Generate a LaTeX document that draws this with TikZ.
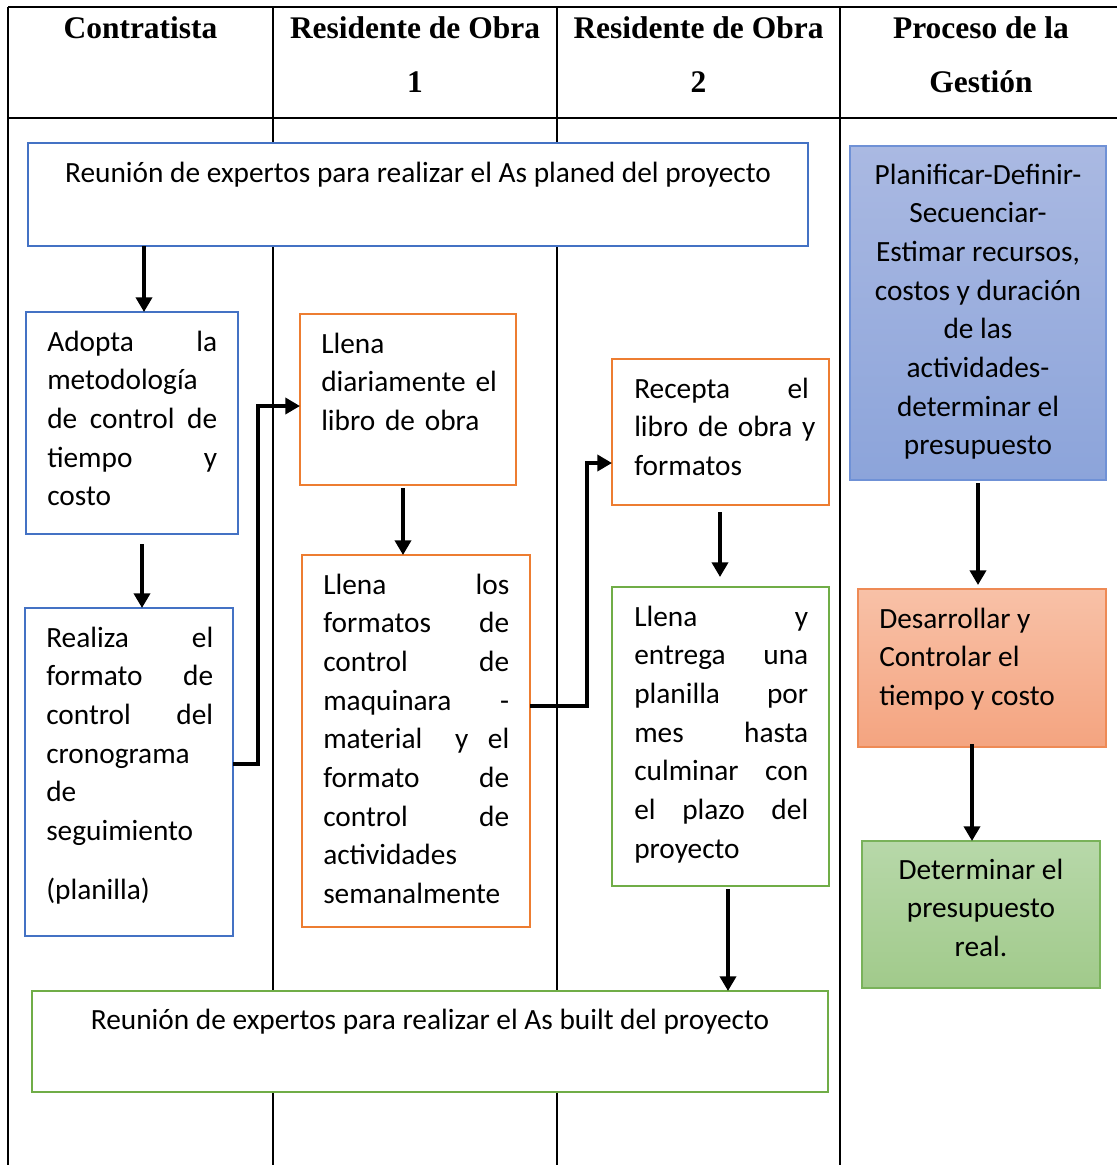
\documentclass[tikz,border=0pt]{standalone}
\usepackage{fontspec}
\setmainfont{Carlito}
\newfontfamily\headfont{Liberation Serif}
\usetikzlibrary{arrows.meta,calc}

\definecolor{cblue}{HTML}{4472C4}
\definecolor{corange}{HTML}{ED7D31}
\definecolor{cgreen}{HTML}{70AD47}
\definecolor{pblueT}{HTML}{AAB9E2}
\definecolor{pblueB}{HTML}{8CA4DA}
\definecolor{pblueL}{HTML}{6F91D6}
\definecolor{porT}{HTML}{F8C1A7}
\definecolor{porB}{HTML}{F4A480}
\definecolor{porL}{HTML}{EE8A55}
\definecolor{pgrT}{HTML}{B7D8A9}
\definecolor{pgrB}{HTML}{A1CA8B}
\definecolor{pgrL}{HTML}{79B25A}

\newcommand\bodyfont{\fontsize{22}{29}\selectfont}
\newcommand\hdfont{\headfont\bfseries\fontsize{23.6}{41}\selectfont}

% rectangle node spanning (x1,y1)-(x2,y2), coordinates in pixels
\newcommand\flowbox[6]{%
  \node[#2, minimum width={(#5-#3)*0.75pt}, minimum height={(#6-#4)*0.75pt}]
    (#1) at ({(#3+#5)/2},{(#4+#6)/2}) {};}

\begin{document}
\begin{tikzpicture}[x=0.75pt, y=-0.75pt,
  tbl/.style={line width=1.6pt},
  boxbase/.style={rectangle, inner sep=0pt, outer sep=0pt, line width=1.5pt},
  bbox/.style={boxbase, draw=cblue, fill=white},
  obox/.style={boxbase, draw=corange, fill=white},
  gbox/.style={boxbase, draw=cgreen, fill=white},
  pblue/.style={boxbase, line width=1.1pt, draw=pblueL, top color=pblueT, bottom color=pblueB},
  porange/.style={boxbase, line width=1.1pt, draw=porL, top color=porT, bottom color=porB},
  pgreen/.style={boxbase, line width=1.1pt, draw=pgrL, top color=pgrT, bottom color=pgrB},
  arr/.style={-{Triangle[length=11pt,width=12pt]}, line width=3pt},
  txt/.style={inner sep=0pt, anchor=north west, yshift=20.3pt, font=\bodyfont, align=left},
  ctxt/.style={inner sep=0pt, anchor=north, yshift=20.3pt, font=\bodyfont, align=center},
  hd/.style={inner sep=0pt, anchor=north, yshift=28.7pt, font=\hdfont, align=center}]

\useasboundingbox (0,0) rectangle (1117,1165);
\fill[white] (0,0) rectangle (1117,1165);

% table grid
\draw[tbl] (8,7) -- (1117,7);
\draw[tbl] (8,118) -- (1117,118);
\foreach \x in {8,273,557,840} \draw[tbl] (\x,7) -- (\x,1165);

% column headers
\node[hd] (hcon) at (140.5,38) {\strut Contratista};
\node[hd] (hres1) at (415,38) {\strut Residente de Obra\\1};
\node[hd] (hres2) at (698.5,38) {\strut Residente de Obra\\2};
\node[hd] (hproc) at (981,38) {\strut Proceso de la\\Gestión};

% boxes
\flowbox{planned}{bbox}{28}{143}{808}{246}
\flowbox{adopta}{bbox}{26}{312}{238}{534}
\flowbox{realiza}{bbox}{25}{608}{233}{936}
\flowbox{diario}{obox}{300}{314}{516}{485}
\flowbox{formatos}{obox}{302}{555}{530}{927}
\flowbox{recepta}{obox}{612}{359}{829}{505}
\flowbox{entrega}{gbox}{612}{587}{829}{886}
\flowbox{built}{gbox}{32}{991}{828}{1092}
\flowbox{planif}{pblue}{850}{146}{1106}{480}
\flowbox{desarr}{porange}{858}{589}{1106}{747}
\flowbox{determ}{pgreen}{862}{841}{1100}{988}

% connectors
\draw[arr] (planned.south -| 144,0) -- (adopta.north -| 144,0);
\draw[arr] ($(adopta.south -| 142,0)+(0,10)$) -- (realiza.north -| 142,0);
\draw[arr] (realiza.east |- 0,764) -| (258,406) -- (diario.west |- 0,406);
\draw[arr] ($(diario.south -| 403,0)+(0,3)$) -- (formatos.north -| 403,0);
\draw[arr] (formatos.east |- 0,706) -| (587,463) -- (recepta.west |- 0,463);
\draw[arr] ($(recepta.south -| 720,0)+(0,7)$) -- ($(entrega.north -| 720,0)+(0,-10)$);
\draw[arr] ($(entrega.south -| 728,0)+(0,3)$) -- (built.north -| 728,0);
\draw[arr] ($(planif.south -| 978,0)+(0,3)$) -- ($(desarr.north -| 978,0)+(0,-4)$);
\draw[arr] ($(desarr.south -| 972,0)+(0,-3)$) -- (determ.north -| 972,0);

% box texts
\node[ctxt] (tplanned) at (418,182) {\strut Reunión de expertos para realizar el As planed del proyecto};
\node[txt, text width=127.5pt] (tadopta) at (47,351)
  {\strut Adopta\hfill la\\ metodología\\ de\hfill control\hfill de\\ tiempo\hfill y\\ costo};
\node[txt, text width=125.25pt] (trealiza) at (46,647)
  {\strut Realiza\hfill el\\ formato\hfill de\\ control\hfill del\\ cronograma\\ de\\ seguimiento\\[15pt] (planilla)};
\node[txt, text width=140pt] (tdiario) at (321,353)
  {\strut Llena\\ diariamente el\\ libro de obra};
\node[txt, text width=139.5pt] (tformatos) at (323,594)
  {\strut Llena\hfill los\\ formatos\hfill de\\ control\hfill de\\ maquinara\hfill -\\ material\hfill y\ \ el\\ formato\hfill de\\ control\hfill de\\ actividades\\ semanalmente};
\node[txt, text width=131pt] (trecepta) at (634,398)
  {\strut Recepta\hfill el\\ \makebox[\linewidth][s]{libro de obra y}\\ formatos};
\node[txt, text width=130.5pt] (tentrega) at (634,626)
  {\strut Llena\hfill y\\ entrega\hfill una\\ planilla\hfill por\\ mes\hfill hasta\\ culminar\hfill con\\ el\hfill plazo\hfill del\\ proyecto};
\node[ctxt] (tbuilt) at (430,1029) {\strut Reunión de expertos para realizar el As built del proyecto};
\node[ctxt] (tplanif) at (978,184)
  {\strut Planificar-Definir-\\ Secuenciar-\\ Estimar recursos,\\ costos y duración\\ de las\\ actividades-\\ determinar el\\ presupuesto};
\node[txt] (tdesarr) at (879,628)
  {\strut Desarrollar y\\ Controlar el\\ tiempo y costo};
\node[ctxt] (tdeterm) at (981,879)
  {\strut Determinar el\\ presupuesto\\ real.};

\end{tikzpicture}
\end{document}
